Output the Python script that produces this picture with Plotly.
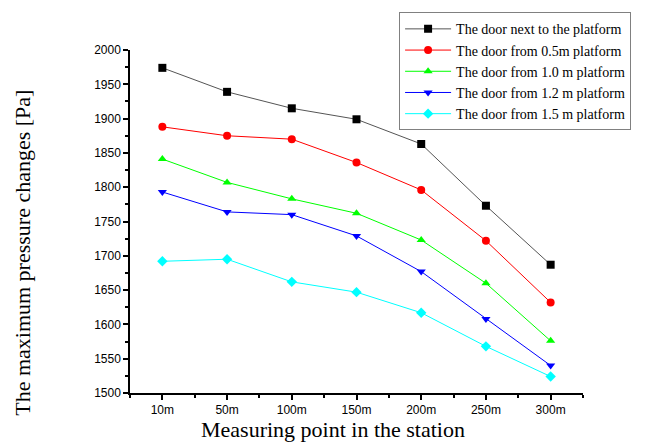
import plotly.graph_objects as go

# Measuring points along the station
points = ["10m", "50m", "100m", "150m", "200m", "250m", "300m"]

# Maximum pressure change [Pa] for each door position
door_next = [1974, 1939, 1915, 1899, 1863, 1773, 1687]
door_05m = [1888, 1875, 1870, 1836, 1796, 1722, 1632]
door_10m = [1841, 1807, 1783, 1762, 1723, 1660, 1576]
door_12m = [1793, 1764, 1760, 1729, 1677, 1608, 1540]
door_15m = [1692, 1695, 1662, 1647, 1617, 1568, 1524]

series = [
    ("The door next to the platform", door_next, "#000000", "#555555", "square"),
    ("The door from 0.5m platform", door_05m, "#ff0000", "#ff0000", "circle"),
    ("The door from 1.0 m platform", door_10m, "#00ff00", "#00ff00", "triangle-up"),
    ("The door from 1.2 m platform", door_12m, "#0000ff", "#0000ff", "triangle-down"),
    ("The door from 1.5 m platform", door_15m, "#00ffff", "#00ffff", "diamond"),
]

x_idx = list(range(len(points)))

fig = go.Figure()
for name, vals, mcol, lcol, sym in series:
    fig.add_trace(go.Scatter(
        x=x_idx, y=vals, name=name, mode="lines+markers",
        line=dict(color=lcol, width=1),
        marker=dict(symbol=sym, size=8, color=mcol, line=dict(width=0)),
    ))

title_font = dict(family="Liberation Serif", size=22, color="black")

fig.update_layout(
    width=660, height=443,
    margin=dict(l=130, r=77, t=46, b=50),
    paper_bgcolor="white", plot_bgcolor="white",
    showlegend=True,
    legend=dict(
        x=0.594, y=1.11, xanchor="left", yanchor="top",
        bordercolor="#808080", borderwidth=1, bgcolor="white",
        font=dict(family="Liberation Serif", size=14, color="black"),
        tracegroupgap=0, itemwidth=46,
    ),
    xaxis=dict(
        range=[-0.5, 6.5], tickvals=x_idx, ticktext=points,
        showgrid=False, zeroline=False,
        showline=True, linecolor="black", linewidth=1.5,
        ticks="outside", ticklen=5, tickcolor="black", tickwidth=1.5,
        minor=dict(tickvals=[i - 0.5 for i in range(len(points) + 1)],
                   ticks="outside", ticklen=3, tickcolor="black", tickwidth=1.5),
        tickfont=dict(family="Liberation Sans", size=12, color="black"),
    ),
    yaxis=dict(
        range=[1500, 2000], dtick=50, tick0=1500,
        showgrid=False, zeroline=False,
        showline=True, linecolor="black", linewidth=1.5,
        ticks="outside", ticklen=5, tickcolor="black", tickwidth=1.5,
        minor=dict(dtick=25, ticks="outside", ticklen=3, tickcolor="black", tickwidth=1.5),
        tickfont=dict(family="Liberation Sans", size=12, color="black"),
    ),
    annotations=[
        dict(text="Measuring point in the station", xref="paper", yref="paper",
             x=0.448, y=-0.107, xanchor="center", yanchor="middle",
             showarrow=False, font=title_font),
        dict(text="The maximum pressure changes [Pa]", xref="paper", yref="paper",
             x=-0.236, y=0.409, xanchor="center", yanchor="middle",
             textangle=-90, showarrow=False, font=title_font),
    ],
)

fig.write_html("out.html")
